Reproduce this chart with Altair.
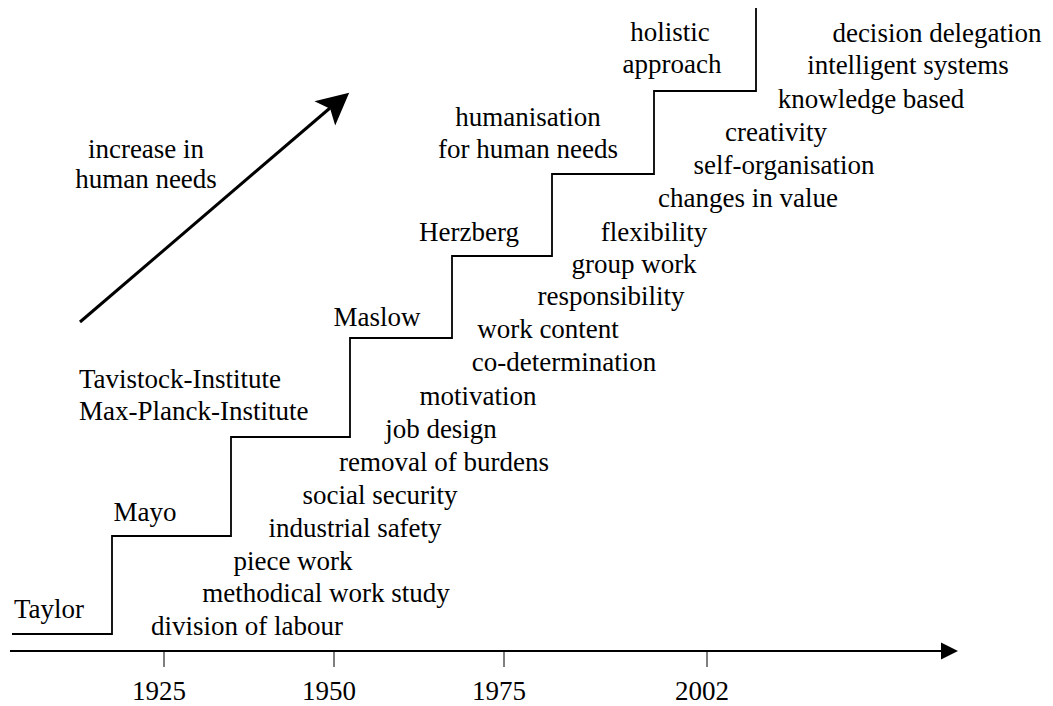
import altair as alt
import pandas as pd

# ---- data (diagram units: x = position along the time line, y = level of human needs) ----
step_edges_x = [4, 104, 223, 342, 444, 544, 646, 748]
step_levels_y = [64, 162, 261, 360, 442, 524, 607, 690]

tick_years = ["1925", "1950", "1975", "2002"]
tick_pos = [156, 326, 496, 699]
tick_label_pos = [151, 321, 491, 694]

axis_start, axis_end, axis_level = 2, 933, 47
tick_bottom, tick_label_level = 31, 6

era_labels = ["Taylor", "Mayo", "Maslow", "Herzberg", "humanisation", "for human needs",
              "holistic", "approach", "increase in", "human needs"]
era_x = [41, 137, 369, 461, 520, 520, 662, 664, 138, 138]
era_y = [88, 185, 380, 465, 580, 548, 665, 633, 548, 518]

inst_labels = ["Tavistock-Institute", "Max-Planck-Institute"]
inst_x = [71, 71]
inst_y = [318, 286]

topics = ["division of labour", "methodical work study", "piece work", "industrial safety",
          "social security", "removal of burdens", "job design", "motivation",
          "co-determination", "work content", "responsibility", "group work", "flexibility",
          "changes in value", "self-organisation", "creativity", "knowledge based",
          "intelligent systems", "decision delegation"]
topic_x = [239, 318, 285, 347, 372, 436, 433, 470, 556, 540, 603, 626, 646, 740, 776, 768,
           863, 900, 929]
topic_y = [71, 104, 136, 169, 202, 235, 268, 301, 335, 368, 401, 433, 465, 499, 532, 565,
           598, 632, 664]

needs_arrow_from = (72, 376)
needs_arrow_to = (322, 590)
needs_head = (329, 595)

# ---- build tables ----
stair = [{"x": step_edges_x[0], "y": step_levels_y[0], "o": 0}]
for i in range(1, len(step_edges_x)):
    stair.append({"x": step_edges_x[i], "y": step_levels_y[i - 1], "o": 2 * i - 1})
    stair.append({"x": step_edges_x[i], "y": step_levels_y[i], "o": 2 * i})
stair_df = pd.DataFrame(stair)

H = 697
X = alt.Scale(domain=[0, 1037], nice=False, zero=False)
Y = alt.Scale(domain=[690 - H, 690], nice=False, zero=False)
FONT = "Liberation Serif"
FS = 27

base_x = lambda f: alt.X(f, type="quantitative", scale=X, axis=None)
base_y = lambda f: alt.Y(f, type="quantitative", scale=Y, axis=None)

stairs = alt.Chart(stair_df).mark_line(color="black", strokeWidth=1.8, interpolate="linear").encode(
    x=base_x("x"), y=base_y("y"), order="o:Q")

axis_df = pd.DataFrame({"x": [axis_start], "x2": [axis_end], "y": [axis_level]})
axis_line = alt.Chart(axis_df).mark_rule(color="black", strokeWidth=2).encode(
    x=base_x("x"), x2="x2", y=base_y("y"))

axis_head_df = pd.DataFrame({"x": [axis_end + 8.5], "y": [axis_level]})
axis_head = alt.Chart(axis_head_df).mark_point(
    shape="M-1,-1L1,0L-1,1Z", filled=True, color="black", opacity=1, size=289, strokeWidth=0
).encode(x=base_x("x"), y=base_y("y"))

tick_df = pd.DataFrame({"x": tick_pos, "y": [axis_level] * 4, "y2": [tick_bottom] * 4})
ticks = alt.Chart(tick_df).mark_rule(color="black", strokeWidth=1).encode(
    x=base_x("x"), y=base_y("y"), y2="y2")

tick_lab_df = pd.DataFrame({"x": tick_label_pos, "y": [tick_label_level] * 4, "t": tick_years})
tick_labels = alt.Chart(tick_lab_df).mark_text(
    font=FONT, fontSize=FS, color="black", align="center", baseline="middle").encode(
    x=base_x("x"), y=base_y("y"), text="t:N")

shaft_df = pd.DataFrame({"x": [needs_arrow_from[0]], "y": [needs_arrow_from[1]],
                         "x2": [needs_arrow_to[0]], "y2": [needs_arrow_to[1]]})
shaft = alt.Chart(shaft_df).mark_rule(color="black", strokeWidth=3).encode(
    x=base_x("x"), y=base_y("y"), x2="x2", y2="y2")

head_df = pd.DataFrame({"x": [needs_head[0]], "y": [needs_head[1]]})
head = alt.Chart(head_df).mark_point(
    shape="M1,0L-1,-1L-0.56,0L-1,1Z", filled=True, color="black", opacity=1, size=1024,
    strokeWidth=0, angle=319.6
).encode(x=base_x("x"), y=base_y("y"))

era_df = pd.DataFrame({"x": era_x, "y": era_y, "t": era_labels})
era_text = alt.Chart(era_df).mark_text(
    font=FONT, fontSize=FS, color="black", align="center", baseline="middle").encode(
    x=base_x("x"), y=base_y("y"), text="t:N")

inst_df = pd.DataFrame({"x": inst_x, "y": inst_y, "t": inst_labels})
inst_text = alt.Chart(inst_df).mark_text(
    font=FONT, fontSize=FS, color="black", align="left", baseline="middle").encode(
    x=base_x("x"), y=base_y("y"), text="t:N")

topic_df = pd.DataFrame({"x": topic_x, "y": topic_y, "t": topics})
topic_text = alt.Chart(topic_df).mark_text(
    font=FONT, fontSize=FS, color="black", align="center", baseline="middle").encode(
    x=base_x("x"), y=base_y("y"), text="t:N")

chart = alt.layer(
    stairs, axis_line, axis_head, ticks, tick_labels, shaft, head, era_text, inst_text, topic_text
).properties(
    width=1037, height=H, padding=0, autosize=alt.AutoSizeParams(type="none"),
    background="white"
).configure_view(stroke=None)

chart.save("out.html", embed_options={"renderer": "svg", "actions": False})
